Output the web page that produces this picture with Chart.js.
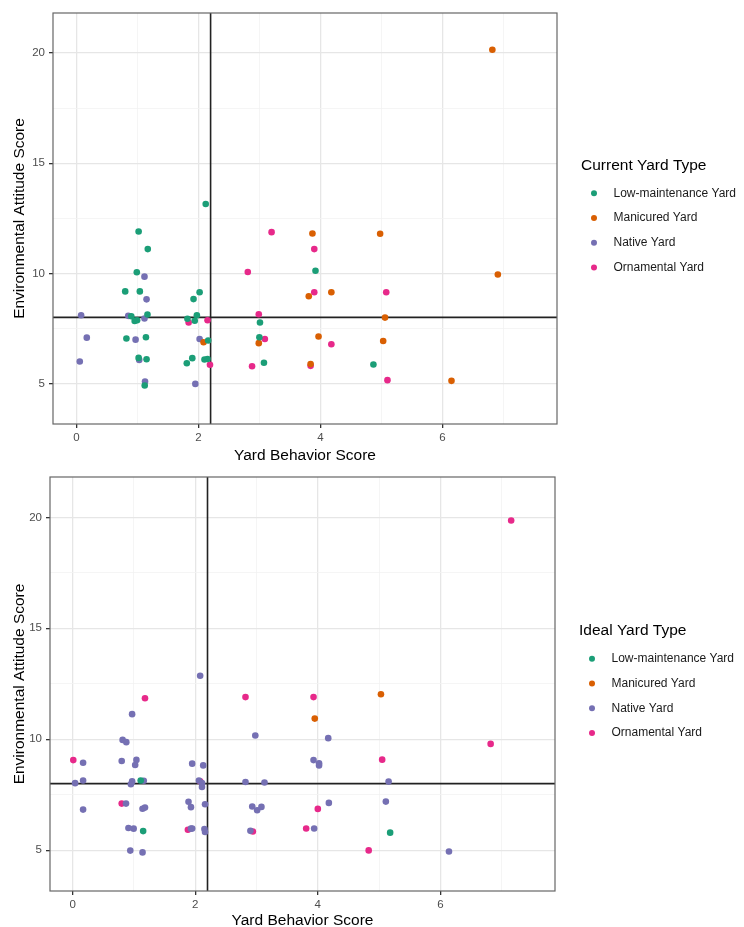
<!DOCTYPE html>
<html>
<head>
<meta charset="utf-8">
<title>Yard Behavior vs Environmental Attitude</title>
<script src="https://cdn.jsdelivr.net/npm/chart.js@4.4.1/dist/chart.umd.min.js"></script>
<style>
  html, body { margin: 0; padding: 0; background: #fff; }
  .plot { position: absolute; left: 0; width: 744px; }
  #topPlot { top: 0; height: 464px; }
  #bottomPlot { top: 464px; height: 463px; }
</style>
</head>
<body>
<div class="plot" id="topPlot"><canvas id="currentChart"></canvas></div>
<div class="plot" id="bottomPlot"><canvas id="idealChart"></canvas></div>
<script>
/* global Chart */

// categories + colours (Dark2)
const yardTypes = ['Low-maintenance Yard', 'Manicured Yard', 'Native Yard', 'Ornamental Yard'];
const yardColors = ['#1B9E77', '#D95F02', '#7570B3', '#E7298A'];

// cut-off lines
const behaviorCut = 2.2;
const attitudeCut = 8;

// ticks: labelled values and grid values (minor lines in between)
const xTicks = [0, 2, 4, 6];
const xGrid = [0, 1, 2, 3, 4, 5, 6, 7];
const yTicks = [5, 10, 15, 20];
const yGrid = [5, 7.5, 10, 12.5, 15, 17.5, 20];

// current yard type, [behavior, attitude]
const currentLow = [
  [1.02, 11.9], [1.17, 11.1], [0.99, 10.05], [0.80, 9.18], [1.04, 9.18], [1.92, 8.83],
  [2.02, 9.14], [1.165, 8.13], [0.90, 8.05], [0.955, 7.84], [0.995, 7.87], [1.82, 7.94],
  [1.975, 8.1], [1.94, 7.85], [0.82, 7.04], [1.14, 7.1], [2.16, 6.95], [1.02, 6.16],
  [1.15, 6.1], [1.81, 5.92], [1.9, 6.15], [2.1, 6.09], [2.15, 6.11], [1.12, 4.91],
  [2.12, 13.15], [3.01, 7.77], [3.0, 7.1], [3.075, 5.94], [3.92, 10.12], [4.87, 5.86]
];
const currentManicured = [
  [3.87, 11.81], [4.98, 11.8], [3.81, 8.96], [4.18, 9.14], [3.97, 7.13], [2.99, 6.83],
  [2.085, 6.87], [3.84, 5.88], [6.91, 9.95], [5.06, 7.99], [5.03, 6.93], [6.15, 5.12],
  [6.82, 20.15]
];
const currentNative = [
  [0.077, 8.1], [0.17, 7.08], [0.055, 6.0], [0.85, 8.07], [0.97, 6.99], [1.03, 6.07],
  [1.116, 9.85], [1.15, 8.82], [1.116, 7.95], [1.125, 5.09], [2.02, 7.02], [1.95, 4.98]
];
const currentOrnamental = [
  [2.15, 7.87], [1.84, 7.77], [2.19, 5.85], [2.81, 10.06], [3.2, 11.87], [2.99, 8.14],
  [3.09, 7.02], [2.88, 5.78], [3.9, 11.1], [3.9, 9.14], [4.18, 6.78], [3.84, 5.8],
  [5.08, 9.14], [5.1, 5.15]
];

// ideal yard type
const idealLow = [[1.11, 8.14], [1.15, 5.86], [5.18, 5.79]];
const idealManicured = [[3.95, 10.93], [5.03, 12.03]];
const idealNative = [
  [0.17, 8.94], [0.04, 8.02], [0.17, 8.14], [0.17, 6.83], [0.80, 9.02], [0.815, 9.97],
  [0.875, 9.87], [0.97, 11.13], [1.04, 9.07], [1.02, 8.84], [0.97, 8.1], [0.95, 7.97],
  [0.87, 7.1], [0.91, 6.0], [0.995, 5.97], [0.94, 4.98], [1.14, 4.9], [1.16, 8.13],
  [1.14, 6.87], [1.18, 6.92], [1.95, 8.9], [2.13, 8.82], [1.89, 7.18], [1.93, 6.94],
  [1.93, 5.97], [1.95, 5.98], [2.06, 8.14], [2.11, 8.02], [2.11, 7.85], [2.16, 7.07],
  [2.15, 5.95], [2.16, 5.82], [2.82, 8.07], [3.13, 8.05], [2.98, 10.17], [2.93, 6.97],
  [3.01, 6.8], [3.08, 6.95], [2.9, 5.87], [3.93, 9.06], [4.02, 8.92], [4.02, 8.82],
  [3.94, 5.98], [4.17, 10.05], [4.18, 7.13], [5.155, 8.09], [5.11, 7.19], [6.14, 4.94],
  [2.08, 12.86]
];
const idealOrnamental = [
  [0.01, 9.06], [1.18, 11.85], [0.80, 7.1], [1.88, 5.92], [2.08, 8.11], [2.82, 11.9],
  [2.94, 5.84], [3.93, 11.9], [4.0, 6.86], [3.81, 5.98], [4.83, 4.99], [5.05, 9.08],
  [6.82, 9.79], [7.155, 19.86]
];

const family = '"Liberation Sans", Arial, Helvetica, sans-serif';
Chart.defaults.font.family = family;

// border of the panel + the two cut-off lines
const panelPlugin = {
  id: 'panel',
  beforeDatasetsDraw(chart) {
    const { ctx, chartArea: a, scales: { x, y } } = chart;
    const px = x.getPixelForValue(behaviorCut);
    const py = y.getPixelForValue(attitudeCut);
    ctx.save();
    ctx.strokeStyle = '#222';
    ctx.lineWidth = 1.6;
    ctx.beginPath();
    ctx.moveTo(px, a.top); ctx.lineTo(px, a.bottom);
    ctx.moveTo(a.left, py); ctx.lineTo(a.right, py);
    ctx.stroke();
    ctx.restore();
  },
  afterDraw(chart) {
    const { ctx, chartArea: a } = chart;
    ctx.save();
    ctx.strokeStyle = '#666';
    ctx.lineWidth = 1.2;
    ctx.strokeRect(a.left, a.top, a.right - a.left, a.bottom - a.top);
    ctx.restore();
  }
};

// ggplot-like legend on the right
const sideLegend = {
  id: 'sideLegend',
  afterDraw(chart, args, opts) {
    const { ctx, chartArea: a } = chart;
    const mid = (a.top + a.bottom) / 2;
    const x0 = a.right + 24;
    ctx.save();
    ctx.textBaseline = 'middle';
    ctx.textAlign = 'left';
    ctx.fillStyle = '#000';
    ctx.font = '15.5px ' + family;
    ctx.fillText(opts.title, x0, mid - 53);
    ctx.font = '12px ' + family;
    chart.data.datasets.forEach(function(ds, i) {
      const yy = mid - 25.2 + i * 24.7;
      ctx.fillStyle = ds.backgroundColor;
      ctx.beginPath();
      ctx.arc(x0 + 13, yy, 3, 0, Math.PI * 2);
      ctx.fill();
      ctx.fillStyle = '#1a1a1a';
      ctx.fillText(ds.label, x0 + 32.5, yy);
    });
    ctx.restore();
  }
};

function gridColor(labels) {
  return function(c) {
    return c.tick && labels.includes(c.tick.value) ? '#E6E6E6' : '#F2F2F2';
  };
}
function gridWidth(labels) {
  return function(c) {
    return c.tick && labels.includes(c.tick.value) ? 1.3 : 0.8;
  };
}
function tickMarkColor(labels) {
  return function(c) {
    return c.tick && labels.includes(c.tick.value) ? '#333' : 'rgba(0,0,0,0)';
  };
}

function makeChart(id, legendTitle, series, box) {
  const datasets = series.map(function(points, i) {
    return {
      label: yardTypes[i],
      data: points.map(p => ({ x: p[0], y: p[1] })),
      backgroundColor: yardColors[i],
      borderWidth: 0,
      pointRadius: 3.3,
      pointHoverRadius: 3.3
    };
  });

  return new Chart(document.getElementById(id), {
    type: 'scatter',
    data: { datasets: datasets },
    plugins: [panelPlugin, sideLegend],
    options: {
      responsive: true,
      maintainAspectRatio: false,
      animation: false,
      layout: { padding: { top: 13, right: box.right, left: 0, bottom: 0 } },
      plugins: {
        legend: { display: false },
        tooltip: { enabled: false },
        sideLegend: { title: legendTitle }
      },
      scales: {
        x: {
          type: 'linear',
          min: box.xMin,
          max: box.xMax,
          afterBuildTicks: s => { s.ticks = xGrid.map(v => ({ value: v })); },
          afterFit: s => { s.height = box.xHeight; },
          ticks: {
            autoSkip: false,
            maxRotation: 0,
            padding: 3,
            color: '#4D4D4D',
            font: { size: 11.5 },
            callback: v => xTicks.includes(v) ? String(v) : ''
          },
          grid: {
            color: gridColor(xTicks),
            lineWidth: gridWidth(xTicks),
            tickColor: tickMarkColor(xTicks),
            tickLength: 4
          },
          border: { display: false },
          title: {
            display: true,
            text: 'Yard Behavior Score',
            color: '#000',
            font: { size: 15.5 },
            padding: { top: 0, bottom: box.titlePad }
          }
        },
        y: {
          type: 'linear',
          min: 3.16,
          max: 21.82,
          afterBuildTicks: s => { s.ticks = yGrid.map(v => ({ value: v })); },
          afterFit: s => { s.width = box.yWidth; },
          ticks: {
            autoSkip: false,
            padding: 4,
            color: '#4D4D4D',
            font: { size: 11.5 },
            callback: v => yTicks.includes(v) ? String(v) : ''
          },
          grid: {
            color: gridColor(yTicks),
            lineWidth: gridWidth(yTicks),
            tickColor: tickMarkColor(yTicks),
            tickLength: 4
          },
          border: { display: false },
          title: {
            display: true,
            text: 'Environmental Attitude Score',
            color: '#000',
            font: { size: 15.5 },
            padding: { top: 10.5, bottom: 0 }
          }
        }
      }
    }
  });
}

makeChart('currentChart', 'Current Yard Type',
  [currentLow, currentManicured, currentNative, currentOrnamental],
  { right: 187, yWidth: 53, xHeight: 40, xMin: -0.384, xMax: 7.88, titlePad: -1 });

makeChart('idealChart', 'Ideal Yard Type',
  [idealLow, idealManicured, idealNative, idealOrnamental],
  { right: 189, yWidth: 50, xHeight: 36, xMin: -0.37, xMax: 7.87, titlePad: -3.5 });
</script>
</body>
</html>
